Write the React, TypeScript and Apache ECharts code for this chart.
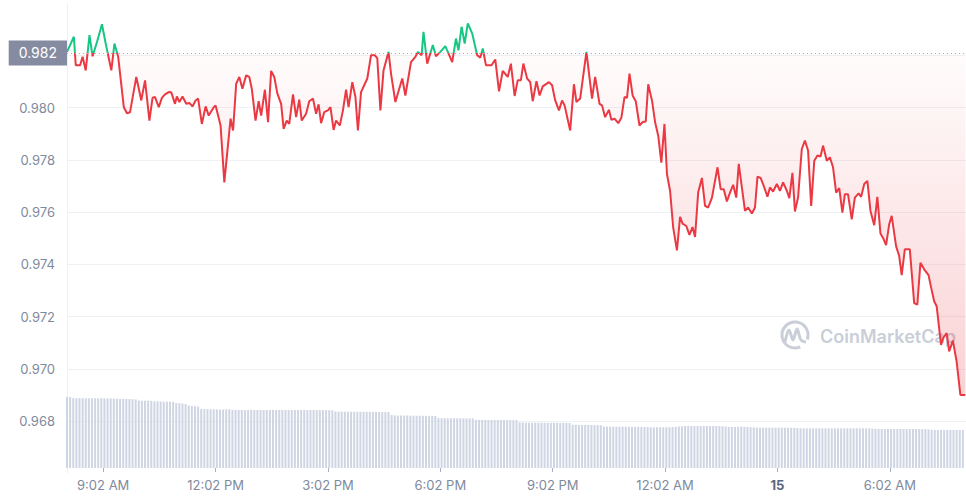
import React, { useEffect, useRef } from "react";
import * as echarts from "echarts";

// minutes since 8:04 AM (day 14) for each price reading
const priceTime = [
  0, 11, 14, 21, 25, 30, 36, 41, 48, 56,
  62, 71, 76, 82, 91, 96, 101, 111, 119, 125,
  132, 137, 141, 147, 152, 157, 163, 167, 173, 176,
  180, 185, 191, 196, 201, 206, 210, 216, 222, 227,
  235, 238, 246, 252, 262, 266, 271, 276, 281, 287,
  292, 296, 302, 307, 311, 317, 322, 327, 332, 337,
  343, 347, 352, 356, 362, 367, 372, 376, 383, 388,
  394, 399, 403, 407, 412, 418, 422, 427, 431, 437,
  442, 447, 451, 457, 462, 466, 471, 481, 487, 493,
  497, 502, 507, 515, 519, 526, 537, 542, 551, 558,
  562, 568, 571, 577, 586, 591, 598, 606, 617, 623,
  627, 632, 637, 642, 649, 657, 662, 666, 671, 680,
  686, 692, 698, 706, 711, 717, 722, 727, 731, 737,
  742, 746, 752, 757, 762, 772, 777, 782, 788, 793,
  797, 806, 812, 816, 822, 832, 841, 846, 853, 857,
  862, 868, 872, 877, 883, 888, 893, 897, 901, 906,
  911, 917, 922, 927, 931, 937, 942, 947, 952, 957,
  961, 966, 971, 977, 982, 986, 992, 997, 1002, 1006,
  1011, 1017, 1022, 1027, 1033, 1042, 1047, 1052, 1057, 1062,
  1067, 1072, 1076, 1081, 1086, 1091, 1097, 1102, 1106, 1111,
  1116, 1122, 1126, 1131, 1137, 1142, 1147, 1153, 1157, 1162,
  1166, 1171, 1177, 1182, 1187, 1192, 1197, 1202, 1207, 1211,
  1217, 1222, 1227, 1232, 1237, 1242, 1246, 1251, 1257, 1262,
  1268, 1272, 1277, 1282, 1287, 1293, 1298, 1303, 1308, 1312,
  1317, 1321, 1328, 1333, 1337, 1342, 1350, 1357, 1362, 1367,
  1373, 1380, 1384, 1389, 1393, 1400, 1404, 1409, 1413, 1419,
  1425, 1431, 1439,
];

const price = [
  0.98214, 0.98272, 0.98163, 0.98163, 0.98195, 0.98143, 0.98278, 0.98197, 0.98252, 0.9832,
  0.98246, 0.98143, 0.98246, 0.98195, 0.98002, 0.97979, 0.97983, 0.98118, 0.98028, 0.98105,
  0.97951, 0.98038, 0.98041, 0.98002, 0.98038, 0.98051, 0.9806, 0.98059, 0.98015, 0.98043,
  0.98022, 0.98043, 0.98015, 0.98018, 0.98005, 0.98028, 0.98035, 0.97938, 0.98005, 0.9797,
  0.98002, 0.98009, 0.97932, 0.97714, 0.97958, 0.97913, 0.98092, 0.98118, 0.98073, 0.98124,
  0.98118, 0.98073, 0.97951, 0.98025, 0.9797, 0.98069, 0.97945, 0.98141, 0.98118, 0.98054,
  0.98015, 0.97919, 0.97951, 0.97938, 0.98051, 0.97964, 0.98031, 0.97951, 0.97977, 0.98025,
  0.98035, 0.97977, 0.98013, 0.97941, 0.97983, 0.9799, 0.98002, 0.97915, 0.97951, 0.97932,
  0.9799, 0.98069, 0.98002, 0.98098, 0.98041, 0.97913, 0.9806, 0.98112, 0.98201, 0.98201,
  0.9819, 0.9799, 0.98143, 0.98214, 0.98131, 0.98022, 0.98112, 0.98047, 0.98175, 0.98195,
  0.98214, 0.98201, 0.98291, 0.98169, 0.9824, 0.98197, 0.98214, 0.98236, 0.98175, 0.98265,
  0.9822, 0.9831, 0.98246, 0.98323, 0.98285, 0.98201, 0.98192, 0.98227, 0.98163, 0.98163,
  0.98185, 0.98063, 0.98141, 0.98118, 0.98169, 0.98045, 0.98105, 0.98105, 0.98169, 0.98112,
  0.98098, 0.98025, 0.98102, 0.98047, 0.98082, 0.98098, 0.98086, 0.98028, 0.9799, 0.98028,
  0.98009, 0.97913, 0.9809, 0.98022, 0.98035, 0.98214, 0.98035, 0.98118, 0.98015, 0.98009,
  0.97964, 0.97992, 0.97954, 0.97958, 0.97941, 0.97962, 0.98041, 0.98038, 0.98131, 0.98047,
  0.98025, 0.97932, 0.97945, 0.97947, 0.9809, 0.98028, 0.97945, 0.97893, 0.9779, 0.97938,
  0.97746, 0.97682, 0.97541, 0.97454, 0.97582, 0.97556, 0.97547, 0.97513, 0.97543, 0.97505,
  0.97675, 0.97731, 0.97624, 0.97618, 0.97655, 0.97772, 0.97688, 0.97688, 0.97641, 0.97675,
  0.97705, 0.97656, 0.97785, 0.97695, 0.97605, 0.97618, 0.97595, 0.97618, 0.97736, 0.97731,
  0.97701, 0.97659, 0.97695, 0.97679, 0.97708, 0.97682, 0.97714, 0.97682, 0.97654, 0.97751,
  0.97603, 0.97656, 0.97842, 0.97874, 0.97836, 0.97624, 0.97797, 0.97817, 0.97813, 0.97855,
  0.97797, 0.9781, 0.97772, 0.97675, 0.97692, 0.97598, 0.97669, 0.97669, 0.97573, 0.97656,
  0.97672, 0.97659, 0.97708, 0.9772, 0.97605, 0.9755, 0.97659, 0.97518, 0.97497, 0.97474,
  0.97554, 0.97586, 0.9747, 0.97432, 0.97359, 0.97458, 0.97458, 0.97252, 0.97246, 0.97406,
  0.97381, 0.97359, 0.97313, 0.97259, 0.9724, 0.97092, 0.9712, 0.97137, 0.97067, 0.97108,
  0.97028, 0.969, 0.969,
];

const openPrice = 0.9821;
const openLabel = "0.982";

// volume, one bar per 5 minutes (relative units)
const volumeStep = 5;
const volume = [
  7.13, 7.1,
  6.98, 6.97, 7.0, 6.97, 6.97, 6.97, 6.97, 6.97, 6.96,
  6.97, 6.97, 6.96, 6.96, 6.95, 6.93, 6.92,
  6.9, 6.9, 6.89, 6.88, 6.86,
  6.75, 6.73, 6.73, 6.73, 6.72,
  6.66, 6.66, 6.65, 6.63, 6.63, 6.63, 6.62,
  6.5, 6.48, 6.45, 6.4,
  6.25, 6.2, 6.18, 6.15,
  5.9, 5.88, 5.88, 5.87, 5.87, 5.87, 5.85, 5.85, 5.87, 5.87,
  5.82, 5.81, 5.8, 5.8, 5.8, 5.8, 5.81, 5.8, 5.8, 5.8, 5.8,
  5.8, 5.8, 5.8, 5.8, 5.8, 5.8, 5.8, 5.8, 5.8, 5.8, 5.8,
  5.8, 5.8, 5.8, 5.8, 5.8, 5.79, 5.79, 5.79, 5.79, 5.78, 5.77,
  5.66, 5.64, 5.63, 5.63, 5.63, 5.63, 5.62, 5.62, 5.62,
  5.62, 5.62, 5.62, 5.61, 5.61, 5.61, 5.6, 5.6, 5.6,
  5.3, 5.27, 5.25, 5.25, 5.24, 5.24, 5.23, 5.23, 5.23, 5.22, 5.22, 5.22, 5.21, 5.21, 5.2,
  5.0, 4.98, 4.98, 4.97, 4.97, 4.97, 4.97, 4.97, 4.96, 4.96, 4.96, 4.95,
  4.82, 4.81, 4.8, 4.8, 4.8, 4.8, 4.8, 4.8, 4.8, 4.79, 4.79, 4.79, 4.78, 4.78,
  4.56, 4.55, 4.54, 4.53, 4.53, 4.53, 4.53, 4.53, 4.53, 4.52, 4.52, 4.52, 4.52, 4.52, 4.51, 4.51, 4.5,
  4.32, 4.31, 4.3, 4.3, 4.3, 4.3, 4.3, 4.29, 4.29, 4.28,
  4.15, 4.14, 4.13, 4.13, 4.13, 4.13, 4.13, 4.13, 4.13, 4.12, 4.12, 4.12, 4.12, 4.11, 4.1,
  4.07, 4.07, 4.07, 4.07, 4.07, 4.08, 4.08, 4.1, 4.12, 4.15, 4.18,
  4.2, 4.2, 4.21, 4.21, 4.21, 4.2, 4.2, 4.2, 4.2, 4.2, 4.19, 4.19, 4.18, 4.15,
  4.1, 4.1, 4.1, 4.12, 4.14, 4.12, 4.1, 4.08, 4.06,
  4.04, 4.03, 4.03, 4.03, 4.03, 4.03, 4.03, 4.03, 4.03, 4.03, 4.03, 4.02, 4.02, 4.0,
  3.98, 3.97, 3.97, 3.97, 3.97, 3.97, 3.97, 3.97, 3.97, 3.97, 3.97, 3.97,
  3.97, 3.97, 3.97, 3.97, 3.97, 3.97, 3.97, 3.96, 3.96, 3.96, 3.96, 3.95,
  3.92, 3.91, 3.9, 3.9, 3.9, 3.9, 3.9, 3.9, 3.9, 3.9, 3.9, 3.9, 3.9, 3.9, 3.89, 3.89, 3.88, 3.86,
  3.82, 3.81, 3.8, 3.8, 3.8, 3.8, 3.8, 3.8, 3.8, 3.8, 3.8,
];

const yLabelTicks = [0.968, 0.97, 0.972, 0.974, 0.976, 0.978, 0.98];
const xTickMinutes = [58, 238, 418, 598, 778, 958, 1138, 1318];
const xTickLabels = ["9:02 AM", "12:02 PM", "3:02 PM", "6:02 PM", "9:02 PM", "12:02 AM", "15", "6:02 AM"];
const boldTickLabels = ["15"];

const RED = "#ea3943";
const GREEN = "#16c784";
const GREY = "#808a9d";
const GRIDLINE = "#eff2f5";
const WATERMARK = "#c9ced8";

export default function App() {
  const ref = useRef<HTMLDivElement>(null);

  useEffect(() => {
    if (!ref.current) return;
    const chart = echarts.init(ref.current, undefined, { renderer: "svg" });

    const n = Math.min(priceTime.length, price.length);
    const pricePairs = [] as number[][];
    for (let i = 0; i < n; i++) pricePairs.push([priceTime[i], price[i]]);
    const volPairs = volume.map((v, i) => [i * volumeStep, v]);

    const option: any = {
      animation: false,
      backgroundColor: "#ffffff",
      textStyle: { fontFamily: "Inter, 'Noto Sans', sans-serif" },
      grid: [
        { left: 67, right: 0, top: 3.3, bottom: 26.7 },
        { left: 67, right: 0, top: 368, bottom: 32 },
      ],
      xAxis: [
        { type: "value", gridIndex: 0, min: 0, max: 1440, show: false },
        {
          type: "value",
          gridIndex: 1,
          min: 0,
          max: 1440,
          axisLine: { show: false },
          splitLine: { show: false },
          axisTick: {
            show: true,
            customValues: xTickMinutes,
            length: 4,
            lineStyle: { color: "#a6b0c3" },
          },
          axisLabel: {
            customValues: xTickMinutes,
            margin: 10,
            color: GREY,
            fontSize: 13,
            fontFamily: "Inter",
            formatter: (v: number) => {
              const idx = xTickMinutes.indexOf(Math.round(v));
              if (idx < 0) return "";
              const t = xTickLabels[idx];
              return boldTickLabels.includes(t) ? `{b|${t}}` : t;
            },
            rich: {
              b: { fontWeight: "bold", color: "#58667e", fontSize: 13, fontFamily: "Inter" },
            },
          },
        },
      ],
      yAxis: [
        {
          type: "value",
          gridIndex: 0,
          min: 0.966,
          max: 0.984,
          interval: 0.002,
          axisLine: { show: true, lineStyle: { color: GRIDLINE } },
          axisTick: { show: false },
          splitLine: {
            show: true,
            showMinLine: false,
            showMaxLine: false,
            lineStyle: { color: GRIDLINE },
          },
          axisLabel: {
            margin: 12,
            color: GREY,
            fontSize: 13,
            fontFamily: "Inter",
            formatter: (v: number) =>
              yLabelTicks.some((t) => Math.abs(t - v) < 1e-7) ? v.toFixed(3) : "",
          },
        },
        { type: "value", gridIndex: 1, min: 0, max: 10, show: false },
      ],
      visualMap: {
        type: "piecewise",
        show: false,
        seriesIndex: 0,
        dimension: 1,
        pieces: [
          { gt: openPrice, lte: 1, color: GREEN },
          { gte: 0.9, lte: openPrice, color: RED },
        ],
        outOfRange: { color: RED },
      },
      series: [
        {
          type: "line",
          xAxisIndex: 0,
          yAxisIndex: 0,
          data: pricePairs,
          symbol: "none",
          z: 3,
          lineStyle: { width: 2 },
          areaStyle: {
            origin: openPrice,
            color: {
              type: "linear",
              x: 0,
              y: 52,
              x2: 0,
              y2: 400,
              global: true,
              colorStops: [
                { offset: 0, color: "rgba(234,57,67,0.02)" },
                { offset: 1, color: "rgba(234,57,67,0.33)" },
              ],
            },
          },
          markLine: {
            silent: true,
            symbol: "none",
            precision: 5,
            lineStyle: { color: "#a6b0c3", type: [1, 3], width: 1 },
            label: {
              show: true,
              position: "start",
              distance: 0,
              formatter: openLabel,
              color: "#ffffff",
              backgroundColor: "#858ca2",
              padding: [4, 10, 4, 10],
              fontSize: 14,
              lineHeight: 17,
              fontFamily: "Inter",
            },
            data: [{ yAxis: openPrice }],
          },
        },
        {
          type: "bar",
          xAxisIndex: 1,
          yAxisIndex: 1,
          data: volPairs,
          barWidth: 2,
          itemStyle: { color: "#cfd5e3" },
          z: 1,
        },
      ],
      graphic: [
        {
          type: "arc",
          silent: true,
          z: 0,
          shape: { cx: 795, cy: 335, r: 13, startAngle: 1.15, endAngle: 0.35 + Math.PI * 2 },
          style: { stroke: WATERMARK, lineWidth: 3, fill: "none" },
        },
        {
          type: "polyline",
          silent: true,
          z: 0,
          shape: {
            points: [
              [785, 342],
              [789, 330],
              [793, 340],
              [797, 329],
              [801, 340],
              [806, 342],
            ],
            smooth: 0.35,
          },
          style: { stroke: WATERMARK, lineWidth: 3, fill: "none" },
        },
        {
          type: "text",
          silent: true,
          z: 0,
          x: 820,
          y: 336,
          style: {
            text: "CoinMarketCap",
            fill: WATERMARK,
            fontSize: 18,
            fontWeight: 600,
            fontFamily: "Inter",
            verticalAlign: "middle",
          },
        },
      ],
    };

    chart.setOption(option);
    return () => chart.dispose();
  }, []);

  return (
    <div
      ref={ref}
      style={{ position: "fixed", left: 0, top: 0, width: 966, height: 500, background: "#fff" }}
    />
  );
}
